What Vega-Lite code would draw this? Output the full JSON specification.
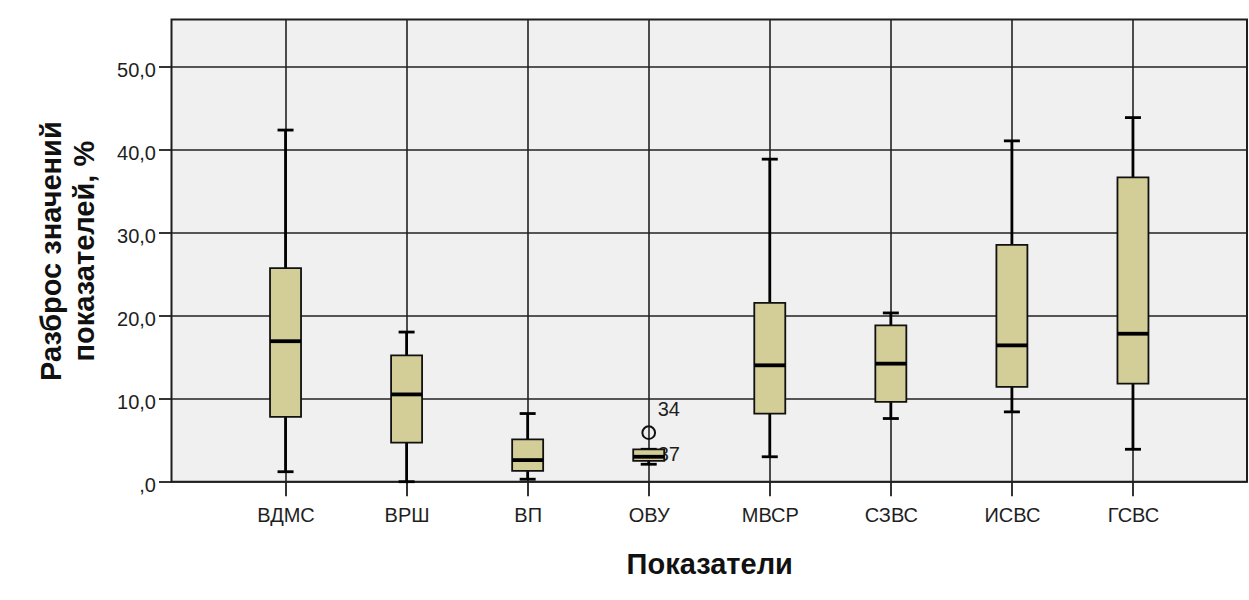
{
  "$schema": "https://vega.github.io/schema/vega-lite/v6.json",
  "autosize": {"type": "none"},
  "width": 1075.5,
  "height": 462.2,
  "padding": {"left": 171.5, "top": 19.5, "right": 2, "bottom": 118.3},
  "background": "#ffffff",
  "config": {
    "view": {"fill": "#f0f0f0", "stroke": "#1e1e1e", "strokeWidth": 2},
    "font": "Liberation Sans"
  },
  "datasets": {
    "boxes": [
      {"cat": "ВДМС", "lo": 1.2, "q1": 7.8, "med": 16.9, "q3": 25.7, "hi": 42.3},
      {"cat": "ВРШ", "lo": 0.0, "q1": 4.7, "med": 10.5, "q3": 15.2, "hi": 18.0},
      {"cat": "ВП", "lo": 0.3, "q1": 1.3, "med": 2.6, "q3": 5.1, "hi": 8.2},
      {"cat": "ОВУ", "lo": 2.1, "q1": 2.5, "med": 3.0, "q3": 3.9, "hi": 3.9},
      {"cat": "МВСР", "lo": 3.0, "q1": 8.2, "med": 14.0, "q3": 21.5, "hi": 38.8},
      {"cat": "СЗВС", "lo": 7.6, "q1": 9.6, "med": 14.2, "q3": 18.8, "hi": 20.3},
      {"cat": "ИСВС", "lo": 8.4, "q1": 11.4, "med": 16.4, "q3": 28.5, "hi": 41.0},
      {"cat": "ГСВС", "lo": 3.9, "q1": 11.8, "med": 17.8, "q3": 36.6, "hi": 43.8}
    ],
    "outliers": [
      {"cat": "ОВУ", "value": 5.9}
    ],
    "labels": [
      {"cat": "ОВУ", "value": 8.6, "label": "34"},
      {"cat": "ОВУ", "value": 3.2, "label": "37"}
    ]
  },
  "encoding": {
    "x": {
      "field": "cat",
      "type": "nominal",
      "sort": ["ВДМС", "ВРШ", "ВП", "ОВУ", "МВСР", "СЗВС", "ИСВС", "ГСВС"],
      "scale": {"type": "point", "padding": 0.942},
      "axis": {
        "title": "Показатели",
        "titleFont": "Liberation Sans",
        "titleFontSize": 29,
        "titleFontWeight": "bold",
        "titleColor": "#111111",
        "titlePadding": 25,
        "labelFont": "Liberation Sans",
        "labelFontSize": 20,
        "labelColor": "#1e1e1e",
        "labelAngle": 0,
        "labelPadding": 10,
        "tickSize": 14,
        "tickColor": "#1e1e1e",
        "tickWidth": 1.8,
        "domain": false,
        "grid": true,
        "gridColor": "#222222",
        "gridWidth": 1.6
      }
    }
  },
  "layer": [
    {
      "data": {"name": "labels"},
      "mark": {"type": "text", "align": "left", "baseline": "middle", "dx": 9, "fontSize": 20, "font": "Liberation Sans", "color": "#1e1e1e"},
      "encoding": {
        "y": {"field": "value", "type": "quantitative"},
        "text": {"field": "label"}
      }
    },
    {
      "data": {"name": "boxes"},
      "mark": {"type": "rule", "color": "#000000", "strokeWidth": 2.8},
      "encoding": {
        "y": {
          "field": "lo",
          "type": "quantitative",
          "scale": {"domain": [0, 55.6], "nice": false, "zero": true},
          "axis": {
            "title": ["Разброс значений", "показателей, %"],
            "titleFont": "Liberation Sans",
            "titleFontSize": 29,
            "titleFontWeight": "bold",
            "titleColor": "#111111",
            "titleLineHeight": 33,
            "titlePadding": 17,
            "values": [0, 10, 20, 30, 40, 50],
            "labelExpr": "datum.value == 0 ? ',0' : replace(format(datum.value, '.1f'), '.', ',')",
            "labelFont": "Liberation Sans",
            "labelFontSize": 20,
            "labelColor": "#1e1e1e",
            "labelPadding": 3,
            "labelOffset": 4,
            "tickSize": 13,
            "tickColor": "#1e1e1e",
            "tickWidth": 1.8,
            "domain": false,
            "grid": true,
            "gridColor": "#222222",
            "gridWidth": 1.6
          }
        },
        "y2": {"field": "hi"}
      }
    },
    {
      "data": {"name": "boxes"},
      "mark": {"type": "tick", "color": "#000000", "size": 16, "thickness": 2.8, "opacity": 1},
      "encoding": {"y": {"field": "lo", "type": "quantitative"}}
    },
    {
      "data": {"name": "boxes"},
      "mark": {"type": "tick", "color": "#000000", "size": 16, "thickness": 2.8, "opacity": 1},
      "encoding": {"y": {"field": "hi", "type": "quantitative"}}
    },
    {
      "data": {"name": "boxes"},
      "mark": {"type": "bar", "width": 31, "fill": "#d3ce97", "stroke": "#111111", "strokeWidth": 1.8},
      "encoding": {
        "y": {"field": "q1", "type": "quantitative"},
        "y2": {"field": "q3"}
      }
    },
    {
      "data": {"name": "boxes"},
      "mark": {"type": "tick", "color": "#000000", "size": 31, "thickness": 3.8, "opacity": 1},
      "encoding": {"y": {"field": "med", "type": "quantitative"}}
    },
    {
      "data": {"name": "outliers"},
      "mark": {"type": "point", "shape": "circle", "filled": false, "size": 160, "stroke": "#111111", "strokeWidth": 2, "opacity": 1},
      "encoding": {"y": {"field": "value", "type": "quantitative"}}
    }
  ]
}
